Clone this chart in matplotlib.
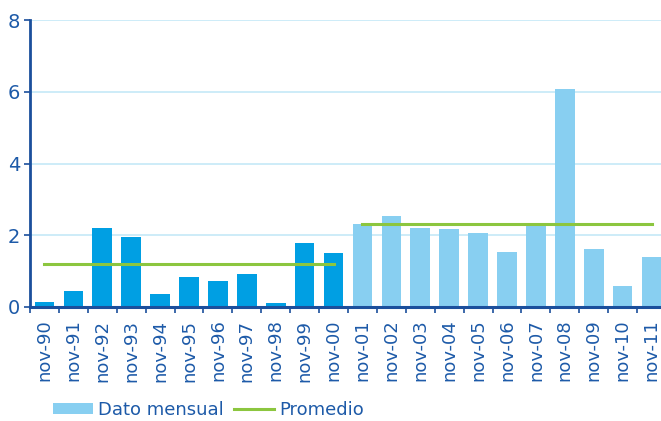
# coding: utf-8
import numpy as np
import matplotlib.pyplot as plt
from matplotlib.patches import Patch
from matplotlib.lines import Line2D

# ================= data =================
etiquetas = ["nov-90", "nov-91", "nov-92", "nov-93", "nov-94", "nov-95", "nov-96",
             "nov-97", "nov-98", "nov-99", "nov-00", "nov-01", "nov-02", "nov-03",
             "nov-04", "nov-05", "nov-06", "nov-07", "nov-08", "nov-09", "nov-10",
             "nov-11"]
dato_mensual = [0.13, 0.44, 2.20, 1.95, 0.36, 0.84, 0.72, 0.92, 0.10, 1.78, 1.50,
                2.31, 2.54, 2.20, 2.17, 2.06, 1.53, 2.26, 6.08, 1.62, 0.59, 1.39]
# period split: first 11 values (1990-2000), then 2001-2011
n_periodo1 = 11
promedio_1 = 1.20
promedio_2 = 2.32
y_ticks = [0, 2, 4, 6, 8]

# ================= style =================
COLOR_OSCURO = "#009FE3"
COLOR_CLARO = "#88CFF1"
COLOR_VERDE = "#8CC63F"
COLOR_EJE = "#1B4F9C"
COLOR_TEXTO = "#1D5AA8"
COLOR_GRID = "#C9EAF8"

plt.rcParams['font.family'] = ['DejaVu Sans']

fig = plt.figure(figsize=(6.61, 4.21), dpi=100)
ax = fig.add_axes([30 / 661, 114 / 421, 636 / 661, 287 / 421])

x = np.arange(len(dato_mensual))
colores = [COLOR_OSCURO if i < n_periodo1 else COLOR_CLARO for i in x]
ax.bar(x, dato_mensual, width=0.68, color=colores, zorder=2)

# average lines, from first to last bar centre of each period
ax.plot([0, n_periodo1 - 1], [promedio_1, promedio_1], color=COLOR_VERDE, lw=2.2, zorder=3)
ax.plot([n_periodo1, len(x) - 1], [promedio_2, promedio_2], color=COLOR_VERDE, lw=2.2, zorder=3)

ax.set_xlim(-0.5, len(x) - 0.5)
ax.set_ylim(0, 8)
ax.set_yticks(y_ticks)
ax.set_yticklabels([str(v) for v in y_ticks])
ax.set_xticks(x)
ax.set_xticklabels(etiquetas, rotation=90)
ax.set_xticks(np.arange(-0.5, len(x) + 0.5, 1), minor=True)

for v in y_ticks[1:]:
    ax.axhline(v, color=COLOR_GRID, lw=1.3, zorder=1)

for lado in ["top", "right"]:
    ax.spines[lado].set_visible(False)
ax.spines["left"].set_color(COLOR_EJE)
ax.spines["left"].set_linewidth(2.0)
ax.spines["bottom"].set_color(COLOR_EJE)
ax.spines["bottom"].set_linewidth(2.2)
ax.spines["bottom"].set_zorder(4)

ax.tick_params(axis="y", colors=COLOR_EJE, labelcolor=COLOR_TEXTO, labelsize=14,
               length=4, width=1.2, pad=3)
ax.tick_params(axis="x", which="major", length=0, labelcolor=COLOR_TEXTO,
               labelsize=13, pad=9)
ax.tick_params(axis="x", which="minor", length=4, width=1.2, colors=COLOR_EJE)

# legend
handles = [Patch(facecolor=COLOR_CLARO, edgecolor="none", label="Dato mensual"),
           Line2D([0], [0], color=COLOR_VERDE, lw=2.2, label="Promedio")]
leg = fig.legend(handles=handles, loc="center left", bbox_to_anchor=(44 / 661, 11 / 421),
                 ncol=2, frameon=False, fontsize=13, borderpad=0, handlelength=2.2,
                 handleheight=0.5, handletextpad=0.3, columnspacing=0.55)
for t in leg.get_texts():
    t.set_color(COLOR_TEXTO)

fig.savefig("out.png", dpi=100)
